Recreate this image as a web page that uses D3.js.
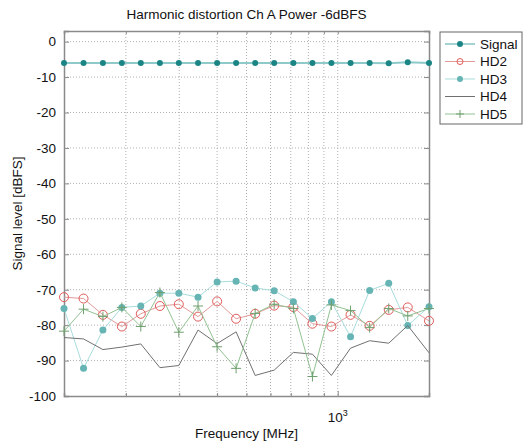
<!doctype html>
<html lang="en">
<head>
  <meta charset="utf-8">
  <title>Harmonic distortion Ch A Power -6dBFS</title>
  <style>
    body { margin: 0; background: #fff; }
    svg text { font-family: "Liberation Sans", Arial, sans-serif; fill: #111; }
    .grid line { stroke: #b0b0b0; stroke-dasharray: 1,2; stroke-width: 1; }
  </style>
</head>
<body>
  <div id="chart"></div>
  <script src="https://d3js.org/d3.v7.min.js"></script>
  <script>
// frequencies in MHz
const freq = [125, 145, 168, 194, 224, 259, 299, 346, 400, 462, 534, 617, 714, 825, 953, 1102, 1274, 1473, 1702, 2000];

const signal = [-6.0, -6.0, -6.0, -6.0, -6.0, -6.0, -6.0, -6.0, -6.0, -6.0, -6.0, -6.0, -6.0, -6.0, -6.0, -6.0, -6.0, -6.1, -5.8, -6.0];
const hd2 = [-72.1, -72.5, -77.1, -80.4, -76.8, -74.6, -74.1, -77.6, -73.3, -78.2, -76.8, -74.5, -74.9, -79.6, -80.4, -77.1, -80.2, -75.7, -75.0, -78.8];
const hd3 = [-75.3, -92.2, -81.4, -75.0, -74.6, -71.0, -71.0, -72.1, -67.8, -67.6, -69.5, -70.3, -73.4, -78.1, -73.4, -83.3, -70.2, -68.2, -80.1, -74.8];
const hd4 = [-83.5, -83.9, -86.9, -86.2, -85.3, -92.0, -91.4, -81.4, -85.2, -81.9, -94.2, -92.7, -87.7, -88.2, -94.2, -86.5, -84.4, -85.1, -80.1, -87.8];
const hd5 = [-81.7, -75.5, -77.6, -75.0, -80.4, -70.8, -82.0, -74.6, -86.1, -92.2, -76.7, -74.1, -75.3, -94.5, -74.3, -75.9, -80.7, -75.3, -77.4, -75.3];

const yTicks = [0, -10, -20, -30, -40, -50, -60, -70, -80, -90, -100];
const xGrid = [200, 300, 400, 500, 600, 700, 800, 900, 1000];

const series = [
  { name: 'Signal', values: signal, line: '#8fcaca', lw: 2, marker: 'dot', mc: '#1b8585', r: 3 },
  { name: 'HD2', values: hd2, line: '#e49a9a', lw: 1, marker: 'circle', mc: '#e05a5a', r: 4.5 },
  { name: 'HD3', values: hd3, line: '#a9dcdc', lw: 1, marker: 'dot', mc: '#66b4b4', r: 3.5 },
  { name: 'HD4', values: hd4, line: '#707070', lw: 1, marker: 'none' },
  { name: 'HD5', values: hd5, line: '#92c292', lw: 1, marker: 'plus', mc: '#6f9f6f', r: 5 }
];

const W = 524, H = 442;
const margin = { top: 31, right: 95, bottom: 46, left: 64 };
const width = W - margin.left - margin.right;
const height = H - margin.top - margin.bottom;

const svg = d3.select('#chart').append('svg')
  .attr('width', W)
  .attr('height', H);

const g = svg.append('g')
  .attr('transform', 'translate(' + margin.left + ',' + margin.top + ')');

const x = d3.scaleLog().domain([125, 2000]).range([0, width]);
const y = d3.scaleLinear().domain([-100, 3]).range([height, 0]);

// grid
const grid = g.append('g').attr('class', 'grid');
grid.selectAll('.gy')
  .data(yTicks.slice(0, -1))
  .join('line')
  .attr('x1', 0).attr('x2', width)
  .attr('y1', d => y(d)).attr('y2', d => y(d));
grid.selectAll('.gx')
  .data(xGrid)
  .join('line')
  .attr('x1', d => x(d)).attr('x2', d => x(d))
  .attr('y1', 0).attr('y2', height);

// axis box with ticks
const yAxisL = d3.axisLeft(y).tickValues(yTicks).tickSize(-5).tickPadding(8).tickFormat(d => String(d));
const yAxisR = d3.axisRight(y).tickValues(yTicks).tickSize(-5).tickFormat('');
const xAxisB = d3.axisBottom(x).tickValues(xGrid.concat([2000])).tickSize(-3).tickFormat('');
const xAxisT = d3.axisTop(x).tickValues(xGrid.concat([2000])).tickSize(-3).tickFormat('');

const axes = [
  g.append('g').call(yAxisL),
  g.append('g').attr('transform', 'translate(' + width + ',0)').call(yAxisR),
  g.append('g').attr('transform', 'translate(0,' + height + ')').call(xAxisB),
  g.append('g').call(xAxisT)
];
axes.forEach(a => {
  a.select('.domain').attr('stroke', '#8a8a8a').attr('stroke-width', 1.5);
  a.selectAll('.tick line').attr('stroke', '#8a8a8a');
  a.selectAll('.tick text').style('font-size', '13.5px').attr('fill', '#111');
});
axes[2].selectAll('.tick').filter(d => d === 1000).select('line').attr('y2', -5);

// 10^3 label
const lab = g.append('text')
  .attr('x', x(1000))
  .attr('y', height + 26)
  .attr('text-anchor', 'middle')
  .style('font-size', '13.5px');
lab.append('tspan').text('10');
lab.append('tspan').attr('dy', -6).style('font-size', '9px').text('3');

// lines and markers
const line = d3.line()
  .x((d, i) => x(freq[i]))
  .y(d => y(d));

function drawMarker(sel, s, cx, cy) {
  if (s.marker === 'dot') {
    sel.append('circle').attr('cx', cx).attr('cy', cy).attr('r', s.r).attr('fill', s.mc);
  } else if (s.marker === 'circle') {
    sel.append('circle').attr('cx', cx).attr('cy', cy).attr('r', s.r)
      .attr('fill', 'none').attr('stroke', s.mc).attr('stroke-width', 1);
  } else if (s.marker === 'plus') {
    sel.append('path')
      .attr('d', 'M' + (cx - s.r) + ',' + cy + 'H' + (cx + s.r) + 'M' + cx + ',' + (cy - s.r) + 'V' + (cy + s.r))
      .attr('stroke', s.mc).attr('stroke-width', 1).attr('fill', 'none');
  }
}

series.forEach(s => {
  const sg = g.append('g');
  sg.append('path')
    .datum(s.values)
    .attr('d', line)
    .attr('fill', 'none')
    .attr('stroke', s.line)
    .attr('stroke-width', s.lw);
  s.values.forEach((v, i) => drawMarker(sg, s, x(freq[i]), y(v)));
});

// title and labels
svg.append('text')
  .attr('x', margin.left + width / 2)
  .attr('y', 19)
  .attr('text-anchor', 'middle')
  .style('font-size', '13.5px')
  .text('Harmonic distortion Ch A Power -6dBFS');

svg.append('text')
  .attr('x', margin.left + width / 2)
  .attr('y', 438)
  .attr('text-anchor', 'middle')
  .style('font-size', '13.5px')
  .text('Frequency [MHz]');

svg.append('text')
  .attr('transform', 'translate(22,' + (margin.top + height / 2) + ') rotate(-90)')
  .attr('text-anchor', 'middle')
  .style('font-size', '13.5px')
  .text('Signal level [dBFS]');

// legend
const legend = svg.append('g').attr('transform', 'translate(440,32)');
legend.append('rect')
  .attr('width', 82).attr('height', 92)
  .attr('fill', '#fff').attr('stroke', '#666').attr('stroke-width', 1);

const item = legend.selectAll('.item')
  .data(series)
  .join('g')
  .attr('transform', (d, i) => 'translate(0,' + (12 + i * 17.5) + ')');

item.append('line')
  .attr('x1', 5).attr('x2', 35)
  .attr('stroke', d => d.name === 'Signal' ? '#4aa6a6' : d.line)
  .attr('stroke-width', 1);
item.each(function (d) {
  drawMarker(d3.select(this), Object.assign({}, d, { r: d.marker === 'plus' ? 4 : 3 }), 20, 0);
});
item.append('text')
  .attr('x', 40).attr('dy', '0.35em')
  .style('font-size', '13.5px')
  .text(d => d.name);
  </script>
</body>
</html>
